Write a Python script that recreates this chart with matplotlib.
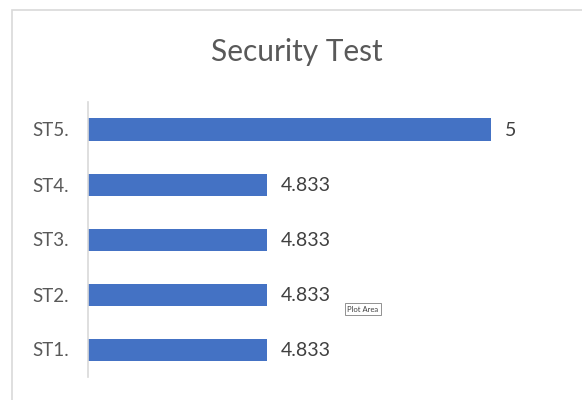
import matplotlib
matplotlib.use("Agg")
import matplotlib.pyplot as plt
from matplotlib.patches import Rectangle

categories = ["ST1.", "ST2.", "ST3.", "ST4.", "ST5."]
values = [4.833, 4.833, 4.833, 4.833, 5]
value_labels = ["4.833", "4.833", "4.833", "4.833", "5"]
title = "Security Test"

W, H = 582, 400
fig = plt.figure(figsize=(W / 100, H / 100), dpi=100)
fig.patch.set_facecolor("white")
plt.rcParams['font.family'] = ['Lato', 'DejaVu Sans']

# chart border
fig.patches.append(Rectangle((12 / W, -0.1), 1.2, 1 - 10 / H + 0.1, transform=fig.transFigure,
                             fill=False, edgecolor="#d9d9d9", linewidth=1.2))

ax = fig.add_axes([88 / W, 1 - 377 / H, (558 - 88) / W, (377 - 102) / H])
ax.barh(range(len(categories)), values, height=0.4, color="#4472c4", left=0)
ax.set_xlim(4.7, 5.05)
ax.set_ylim(-0.5, len(categories) - 0.5)
ax.set_yticks(range(len(categories)))
ax.set_yticklabels(categories, fontsize=13.5, color="#595959")
ax.tick_params(axis="y", length=0, pad=14)
ax.set_xticks([])
for s in ["top", "right", "bottom"]:
    ax.spines[s].set_visible(False)
ax.spines["left"].set_color("#d9d9d9")
ax.spines["left"].set_linewidth(1.2)

for i, (v, lab) in enumerate(zip(values, value_labels)):
    ax.annotate(lab, (v, i), xytext=(10, -1), textcoords="offset points",
                va="center", ha="left", fontsize=14, color="#404040")

fig.text(297 / W, 1 - 52 / H, title, ha="center", va="center", fontsize=21.5, color="#595959")

fig.text(363 / W, 1 - 309 / H, "Plot Area", ha="center", va="center", fontsize=5.5, color="#404040",
         bbox=dict(boxstyle="square,pad=0.3", facecolor="white", edgecolor="#808080", linewidth=0.6))

fig.savefig("out.png", dpi=100, facecolor="white")
